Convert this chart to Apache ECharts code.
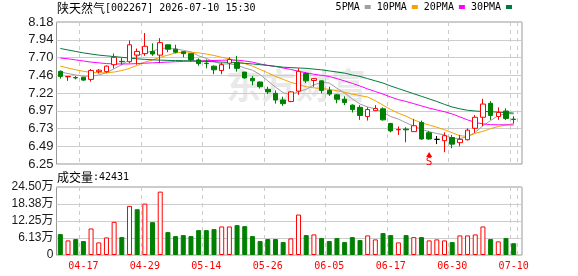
<!DOCTYPE html>
<html>
<head>
<meta charset="utf-8">
<script src="https://cdn.jsdelivr.net/npm/echarts@6.0.0/dist/echarts.min.js"></script>
<style>
  html, body { margin: 0; padding: 0; background: #fff; }
  #chart { width: 578px; height: 276px; }
</style>
</head>
<body>
<div id="chart"></div>
<script>
// 交易日
const dates = [
  '04-14', '04-15', '04-16', '04-17', '04-20', '04-21', '04-22', '04-23', '04-24', '04-27',
  '04-28', '04-29', '04-30', '05-06', '05-07', '05-08', '05-11', '05-12', '05-13', '05-14',
  '05-15', '05-18', '05-19', '05-20', '05-21', '05-22', '05-25', '05-26', '05-27', '05-28',
  '05-29', '06-01', '06-02', '06-03', '06-04', '06-05', '06-08', '06-09', '06-10', '06-11',
  '06-12', '06-15', '06-16', '06-17', '06-18', '06-22', '06-23', '06-24', '06-25', '06-26',
  '06-29', '06-30', '07-01', '07-02', '07-03', '07-06', '07-07', '07-08', '07-09', '07-10'
]
// K线 开 收 低 高
const opens = [
  7.51, 7.435, 7.425, 7.43, 7.40, 7.505, 7.505, 7.60, 7.645, 7.64,
  7.73, 7.75, 7.78, 7.73, 7.87, 7.81, 7.776, 7.75, 7.665, 7.62,
  7.58, 7.52, 7.62, 7.63, 7.50, 7.415, 7.365, 7.265, 7.21, 7.12,
  7.10, 7.24, 7.48, 7.385, 7.38, 7.25, 7.19, 7.13, 7.05, 7.02,
  6.895, 6.975, 7.00, 6.80, 6.715, 6.725, 6.69, 6.815, 6.675, 6.585,
  6.567, 6.61, 6.54, 6.58, 6.735, 6.885, 7.075, 6.895, 6.97, 6.86
]
const closes = [
  7.44, 7.44, 7.42, 7.39, 7.52, 7.525, 7.58, 7.70, 7.64, 7.87,
  7.78, 7.85, 7.745, 7.90, 7.81, 7.77, 7.75, 7.665, 7.615, 7.615,
  7.53, 7.60, 7.67, 7.55, 7.42, 7.38, 7.30, 7.23, 7.12, 7.07,
  7.23, 7.51, 7.38, 7.41, 7.25, 7.20, 7.13, 7.085, 6.99, 6.91,
  6.99, 7.005, 6.85, 6.70, 6.72, 6.715, 6.77, 6.59, 6.59, 6.585,
  6.635, 6.52, 6.585, 6.71, 6.885, 7.065, 6.91, 6.95, 6.87, 6.855
]
const lows = [
  7.41, 7.38, 7.40, 7.38, 7.37, 7.48, 7.49, 7.55, 7.60, 7.62,
  7.60, 7.72, 7.72, 7.62, 7.77, 7.755, 7.70, 7.64, 7.585, 7.55,
  7.47, 7.47, 7.54, 7.505, 7.41, 7.32, 7.275, 7.20, 7.07, 7.04,
  7.09, 7.19, 7.35, 7.30, 7.21, 7.175, 7.075, 7.05, 6.95, 6.85,
  6.84, 6.97, 6.84, 6.68, 6.645, 6.545, 6.685, 6.58, 6.58, 6.52,
  6.41, 6.465, 6.49, 6.57, 6.675, 6.765, 6.85, 6.85, 6.848, 6.80
]
const highs = [
  7.52, 7.44, 7.445, 7.43, 7.54, 7.54, 7.59, 7.75, 7.69, 7.93,
  7.82, 8.03, 7.89, 7.96, 7.87, 7.87, 7.78, 7.755, 7.685, 7.67,
  7.59, 7.63, 7.70, 7.72, 7.50, 7.445, 7.37, 7.30, 7.25, 7.165,
  7.24, 7.55, 7.50, 7.415, 7.385, 7.30, 7.20, 7.17, 7.06, 7.05,
  7.02, 7.05, 7.02, 6.81, 6.76, 6.75, 6.86, 6.84, 6.70, 6.63,
  6.68, 6.645, 6.645, 6.735, 6.915, 7.135, 7.105, 7.02, 7.007, 6.90
]
// 均线
const ma5 = [
  7.50, 7.48, 7.46, 7.445, 7.44, 7.46, 7.49, 7.545, 7.60, 7.665,
  7.715, 7.765, 7.78, 7.825, 7.82, 7.815, 7.795, 7.775, 7.72, 7.685,
  7.64, 7.61, 7.61, 7.595, 7.555, 7.525, 7.465, 7.38, 7.295, 7.22,
  7.19, 7.235, 7.265, 7.325, 7.36, 7.35, 7.28, 7.215, 7.135, 7.065,
  7.025, 7.00, 6.95, 6.895, 6.86, 6.81, 6.765, 6.72, 6.69, 6.665,
  6.645, 6.60, 6.595, 6.625, 6.68, 6.77, 6.84, 6.91, 6.935, 6.93
]
const ma10 = [
  7.58, 7.555, 7.53, 7.51, 7.495, 7.49, 7.49, 7.50, 7.52, 7.55,
  7.59, 7.635, 7.665, 7.70, 7.73, 7.76, 7.77, 7.77, 7.76, 7.745,
  7.725, 7.70, 7.68, 7.65, 7.615, 7.58, 7.535, 7.49, 7.44, 7.40,
  7.36, 7.33, 7.30, 7.285, 7.275, 7.265, 7.245, 7.225, 7.20, 7.18,
  7.16, 7.11, 7.05, 6.99, 6.94, 6.90, 6.85, 6.81, 6.78, 6.75,
  6.715, 6.675, 6.635, 6.625, 6.665, 6.695, 6.73, 6.76, 6.78, 6.80
]
const ma20 = [
  7.69, 7.68, 7.665, 7.65, 7.635, 7.625, 7.615, 7.61, 7.61, 7.61,
  7.615, 7.62, 7.625, 7.63, 7.635, 7.64, 7.645, 7.65, 7.652, 7.655,
  7.657, 7.66, 7.662, 7.662, 7.65, 7.635, 7.61, 7.59, 7.575, 7.555,
  7.535, 7.51, 7.49, 7.47, 7.455, 7.44, 7.41, 7.38, 7.345, 7.31,
  7.27, 7.235, 7.20, 7.16, 7.125, 7.10, 7.07, 7.04, 7.01, 6.985,
  6.96, 6.93, 6.89, 6.85, 6.815, 6.795, 6.785, 6.783, 6.782, 6.78
]
const ma30 = [
  7.82, 7.80, 7.78, 7.76, 7.745, 7.73, 7.72, 7.71, 7.70, 7.69,
  7.68, 7.672, 7.666, 7.662, 7.658, 7.656, 7.654, 7.65, 7.647, 7.644,
  7.64, 7.635, 7.63, 7.625, 7.618, 7.61, 7.60, 7.59, 7.578, 7.566,
  7.56, 7.555, 7.55, 7.54, 7.53, 7.515, 7.50, 7.485, 7.46, 7.44,
  7.41, 7.38, 7.35, 7.31, 7.275, 7.24, 7.205, 7.17, 7.135, 7.10,
  7.06, 7.025, 7.00, 6.98, 6.97, 6.965, 6.96, 6.955, 6.948, 6.942
]
// 成交量 及 涨跌(1 红, -1 绿)
const volumes = [
  75300, 52600, 57400, 50200, 95600, 45400, 63300, 119500, 64500, 176900,
  164900, 185200, 118300, 228300, 82500, 68100, 71700, 68100, 89600, 89600,
  93200, 102800, 102800, 107600, 104000, 68100, 50200, 57400, 57400, 46600,
  59800, 145800, 71700, 74100, 61000, 50200, 61000, 46600, 64500, 53800,
  70500, 56200, 78900, 71700, 45400, 71700, 64500, 64500, 52600, 56200,
  52600, 46600, 70500, 70500, 74100, 102800, 57400, 49000, 61000, 42431
]
const volDir = [
  -1, 1, -1, -1, 1, 1, 1, 1, -1, 1,
  -1, 1, -1, 1, -1, -1, -1, -1, -1, -1,
  -1, 1, 1, -1, -1, -1, -1, -1, -1, -1,
  1, 1, -1, 1, -1, -1, -1, -1, -1, -1,
  1, 1, -1, -1, 1, -1, 1, -1, 1, 1,
  1, -1, 1, 1, 1, 1, -1, 1, -1, -1
]
// 刻度文字
const priceTicks = ['6.25', '6.49', '6.73', '6.97', '7.22', '7.46', '7.70', '7.94', '8.18']
const volTicks = ['0', '6.13万', '12.25万', '18.38万', '24.50万']
// 卖出信号
const signalIndex = 48
const signalPrice = 6.38

const RED = '#ff0000'
const GREEN = '#008000'
const showTick = (i) => (i - 3) % 8 === 0

const chart = echarts.init(document.getElementById('chart'))

const kData = opens.map((o, i) => {
  const item = { value: [o, closes[i], lows[i], highs[i]] }
  if (o === closes[i]) {
    item.itemStyle = { color: '#000', color0: '#000', borderColor: '#000', borderColor0: '#000' }
  }
  return item
})
const volData = volumes.map((v, i) => ({
  value: v,
  itemStyle: volDir[i] > 0
    ? { color: '#fff', borderColor: RED, borderWidth: 1 }
    : { color: GREEN, borderColor: GREEN, borderWidth: 1 }
}))

const maLine = (name, data, color) => ({
  name: name,
  type: 'line',
  xAxisIndex: 0,
  yAxisIndex: 0,
  data: data,
  symbol: 'none',
  smooth: false,
  lineStyle: { width: 1, color: color },
  itemStyle: { color: color },
  z: 3
})

const richText = {
  c: { fontSize: 12, fontFamily: 'Noto Sans CJK SC', fontWeight: 'normal', color: '#000' },
  m: { fontSize: 10, fontFamily: 'DejaVu Sans Mono', fontWeight: 'normal', color: '#000' }
}

const option = {
  animation: false,
  backgroundColor: '#fff',
  title: [
    {
      left: 57,
      top: 2,
      padding: 0,
      text: '{c|陕天然气}{m|[002267] 2026-07-10 15:30}',
      textStyle: { fontWeight: 'normal', rich: richText }
    },
    {
      left: 57,
      top: 171,
      padding: 0,
      text: '{c|成交量}{m|:' + volumes[volumes.length - 1] + '}',
      textStyle: { fontWeight: 'normal', rich: richText }
    }
  ],
  legend: {
    top: 2,
    right: 66,
    padding: 0,
    icon: 'rect',
    itemWidth: 6,
    itemHeight: 4,
    itemGap: 6,
    align: 'right',
    textStyle: { fontSize: 10, fontFamily: 'DejaVu Sans Mono', color: '#000' },
    data: ['5PMA', '10PMA', '20PMA', '30PMA']
  },
  graphic: [
    {
      type: 'text',
      left: 226,
      top: 68,
      z: -10,
      silent: true,
      style: {
        text: '东方财富',
        fontSize: 35,
        fontWeight: 'bold',
        fontFamily: 'Noto Sans CJK SC',
        fill: 'rgba(0,0,0,0.085)'
      }
    }
  ],
  grid: [
    { left: 56.5, top: 22, width: 461, height: 142 },
    { left: 56.5, top: 22, width: 465.5, height: 142, show: true, borderColor: '#999', borderWidth: 1 },
    { left: 56.5, top: 187, width: 461, height: 68 },
    { left: 56.5, top: 187, width: 465.5, height: 68, show: true, borderColor: '#999', borderWidth: 1 }
  ],
  xAxis: [
    {
      type: 'category',
      gridIndex: 0,
      data: dates,
      boundaryGap: true,
      axisLine: { show: false },
      axisTick: { show: false },
      axisLabel: { show: false },
      splitLine: { show: true, interval: showTick, lineStyle: { color: '#ccc', type: [4, 4] } }
    },
    { type: 'value', gridIndex: 1, show: false, min: 0, max: 1 },
    {
      type: 'category',
      gridIndex: 2,
      data: dates,
      boundaryGap: true,
      axisLine: { show: false },
      axisTick: { show: false },
      axisLabel: {
        interval: showTick,
        color: RED,
        fontSize: 10,
        fontFamily: 'DejaVu Sans Mono',
        margin: 6
      },
      splitLine: { show: true, interval: showTick, lineStyle: { color: '#ccc', type: [4, 4] } }
    },
    { type: 'value', gridIndex: 3, show: false, min: 0, max: 1 }
  ],
  yAxis: [
    { type: 'value', gridIndex: 0, min: 6.25, max: 8.18, show: false },
    {
      type: 'value',
      gridIndex: 1,
      min: 0,
      max: 8,
      interval: 1,
      axisLine: { show: false },
      axisTick: { show: false },
      axisLabel: {
        formatter: (v) => priceTicks[Math.round(v)],
        fontSize: 13,
        fontFamily: 'Liberation Sans',
        color: '#1a1a1a',
        margin: 3
      },
      splitLine: { show: true, lineStyle: { color: '#ccc' } }
    },
    { type: 'value', gridIndex: 2, min: 0, max: 245000, show: false },
    {
      type: 'value',
      gridIndex: 3,
      min: 0,
      max: 245000,
      interval: 61250,
      axisLine: { show: false },
      axisTick: { show: false },
      axisLabel: {
        formatter: (v) => volTicks[Math.round(v / 61250)],
        fontSize: 12,
        fontFamily: 'Liberation Sans, Noto Sans CJK SC',
        color: '#1a1a1a',
        margin: 3
      },
      splitLine: { show: true, lineStyle: { color: '#ccc' } }
    }
  ],
  series: [
    {
      type: 'candlestick',
      xAxisIndex: 0,
      yAxisIndex: 0,
      data: kData,
      barWidth: 5,
      itemStyle: {
        color: '#fff',
        color0: GREEN,
        borderColor: RED,
        borderColor0: GREEN,
        borderWidth: 1
      },
      markPoint: {
        symbol: 'triangle',
        symbolSize: [6, 5],
        itemStyle: { color: RED },
        label: {
          show: true,
          position: 'bottom',
          distance: 0,
          formatter: 'S',
          color: RED,
          fontSize: 11,
          fontFamily: 'DejaVu Sans Mono'
        },
        data: [{ coord: [signalIndex, signalPrice] }]
      },
      z: 4
    },
    maLine('5PMA', ma5, '#a0a0a0'),
    maLine('10PMA', ma10, '#f5a200'),
    maLine('20PMA', ma20, '#ff00ff'),
    maLine('30PMA', ma30, '#007a3d'),
    {
      type: 'bar',
      xAxisIndex: 2,
      yAxisIndex: 2,
      data: volData,
      barWidth: 5
    }
  ]
}

chart.setOption(option)
</script>
</body>
</html>
